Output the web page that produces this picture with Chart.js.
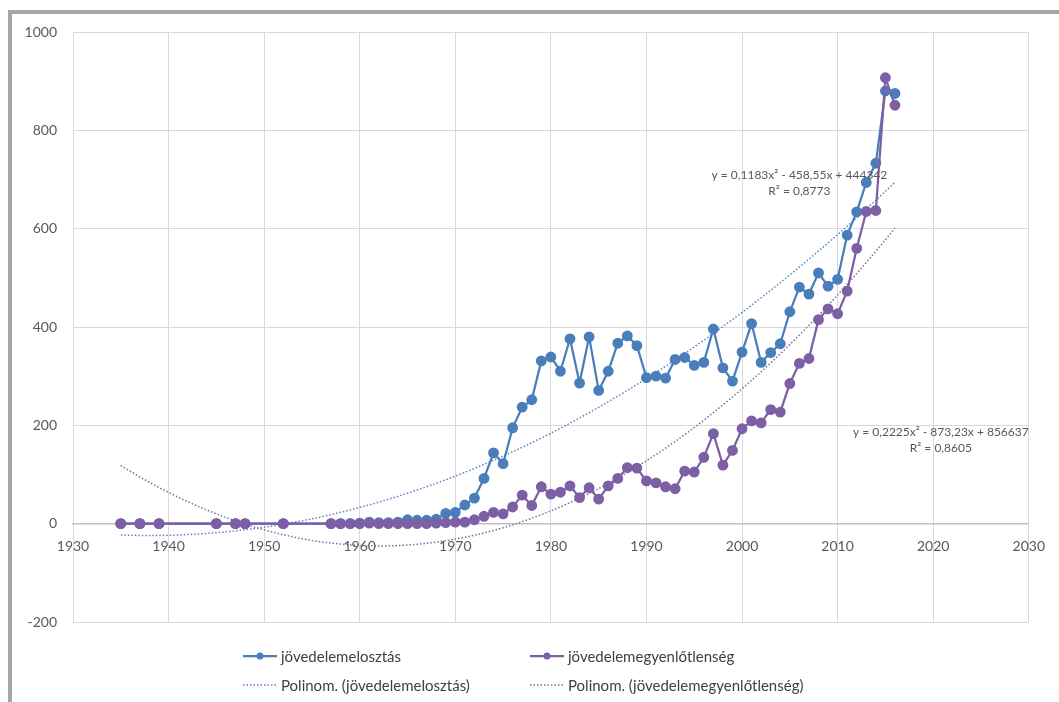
<!DOCTYPE html>
<html>
<head>
<meta charset="utf-8">
<script src="https://cdn.jsdelivr.net/npm/chart.js@4"></script>
<style>
  html, body { margin: 0; padding: 0; background: #fff; }
  body { width: 1059px; height: 702px; position: relative; overflow: hidden; font-family: Lato, "Liberation Sans", sans-serif; }
  #frame { position: absolute; left: 8px; top: 10px; width: 1100px; height: 720px;
           border-top: 4px solid #a6a6a6; border-left: 4px solid #a6a6a6; }
  #wrap { position: absolute; left: 0; top: 0; width: 1059px; height: 702px; }
  #legend { position: absolute; left: 243px; top: 645px; display: grid;
            grid-template-columns: 287px 320px; row-gap: 7px; font-size: 15px; color: #404040; }
  .item { display: flex; align-items: center; height: 22px; white-space: nowrap; }
  .item svg { margin-right: 4px; }
</style>
</head>
<body>
<div id="frame"></div>
<div id="wrap"><canvas id="chart"></canvas></div>
<div id="legend"></div>
<script>
// years with observations
const years = [1935, 1937, 1939, 1945, 1947, 1948, 1952,
  1957, 1958, 1959, 1960, 1961, 1962, 1963, 1964, 1965, 1966, 1967, 1968, 1969,
  1970, 1971, 1972, 1973, 1974, 1975, 1976, 1977, 1978, 1979,
  1980, 1981, 1982, 1983, 1984, 1985, 1986, 1987, 1988, 1989,
  1990, 1991, 1992, 1993, 1994, 1995, 1996, 1997, 1998, 1999,
  2000, 2001, 2002, 2003, 2004, 2005, 2006, 2007, 2008, 2009,
  2010, 2011, 2012, 2013, 2014, 2015, 2016];

const eloszlas = [0, 0, 0, 0, 0, 0, 0,
  0, 0, 0, 1, 3, 2, 2, 3, 8, 7, 7, 9, 21,
  23, 38, 52, 92, 144, 122, 195, 237, 252, 331,
  339, 310, 376, 286, 380, 271, 310, 367, 382, 362,
  297, 300, 296, 334, 338, 322, 328, 396, 317, 290,
  349, 407, 328, 348, 366, 431, 481, 467, 510, 483,
  497, 587, 634, 694, 733, 880, 875];

const egyenlotlenseg = [0, 0, 0, 0, 0, 0, 0,
  0, 0, 0, 0, 1, 0, 0, 0, 0, 0, 0, 1, 2,
  3, 3, 8, 15, 23, 20, 34, 58, 37, 75,
  60, 64, 77, 53, 73, 50, 77, 92, 114, 113,
  87, 83, 75, 71, 107, 105, 135, 183, 119, 149,
  193, 209, 205, 232, 227, 285, 326, 336, 415, 437,
  427, 473, 560, 635, 637, 907, 851];

const seriesNames = ['jövedelemelosztás', 'jövedelemegyenlőtlenség'];
const trendNames = ['Polinom. (jövedelemelosztás)', 'Polinom. (jövedelemegyenlőtlenség)'];
const trendText1 = ['y = 0,1183x² - 458,55x + 444342', 'R² = 0,8773'];
const trendText2 = ['y = 0,2225x² - 873,23x + 856637', 'R² = 0,8605'];

const xTicks = [1930, 2030, 10];
const yTicks = [-200, 1000, 200];

const blue = '#4a7ebb';
const purple = '#7d5fa5';
const grey = '#595959';

// least squares quadratic fit (like Excel's polynomial trendline)
function quadFit(xs, ys) {
  const m = xs.reduce((a, b) => a + b, 0) / xs.length;
  let s = [0, 0, 0, 0, 0], t = [0, 0, 0];
  xs.forEach((x0, i) => {
    const x = x0 - m;
    for (let k = 0; k < 5; k++) s[k] += Math.pow(x, k);
    for (let k = 0; k < 3; k++) t[k] += ys[i] * Math.pow(x, k);
  });
  const A = [[s[0], s[1], s[2], t[0]], [s[1], s[2], s[3], t[1]], [s[2], s[3], s[4], t[2]]];
  for (let i = 0; i < 3; i++) {
    for (let j = i + 1; j < 3; j++) {
      const f = A[j][i] / A[i][i];
      for (let k = i; k < 4; k++) A[j][k] -= f * A[i][k];
    }
  }
  const c = [0, 0, 0];
  for (let i = 2; i >= 0; i--) {
    let v = A[i][3];
    for (let k = i + 1; k < 3; k++) v -= A[i][k] * c[k];
    c[i] = v / A[i][i];
  }
  return x => { const d = x - m; return c[0] + c[1] * d + c[2] * d * d; };
}

function trendPoints(ys) {
  const f = quadFit(years, ys);
  const pts = [];
  for (let x = years[0]; x <= years[years.length - 1]; x++) pts.push({ x: x, y: f(x) });
  return pts;
}

const toXY = ys => years.map((x, i) => ({ x: x, y: ys[i] }));

// equation labels next to the trendlines
const labelPlugin = {
  id: 'trendLabels',
  afterDatasetsDraw(chart) {
    const ctx = chart.ctx, xs = chart.scales.x, ys = chart.scales.y;
    ctx.save();
    ctx.font = '12px Lato, "Liberation Sans", sans-serif';
    ctx.fillStyle = grey;
    ctx.textAlign = 'center';
    ctx.textBaseline = 'middle';
    [[trendText1, 2006, 709], [trendText2, 2020.8, 186]].forEach(([lines, x, y]) => {
      const px = xs.getPixelForValue(x), py = ys.getPixelForValue(y);
      lines.forEach((l, i) => ctx.fillText(l, px, py + i * 16));
    });
    ctx.restore();
  }
};

const ctx = document.getElementById('chart').getContext('2d');
const chart = new Chart(ctx, {
  type: 'scatter',
  data: {
    datasets: [
      { label: seriesNames[1], data: toXY(egyenlotlenseg), showLine: true, order: 0,
        borderColor: purple, backgroundColor: purple, borderWidth: 2.25, pointRadius: 4.3 },
      { label: seriesNames[0], data: toXY(eloszlas), showLine: true, order: 1,
        borderColor: blue, backgroundColor: blue, borderWidth: 2.25, pointRadius: 4.3 },
      { label: trendNames[0], data: trendPoints(eloszlas), showLine: true, order: 2,
        borderColor: '#5a86c0', borderWidth: 1.5, borderDash: [1.5, 2], pointRadius: 0 },
      { label: trendNames[1], data: trendPoints(egyenlotlenseg), showLine: true, order: 3,
        borderColor: '#7f6aa3', borderWidth: 1.5, borderDash: [1.5, 2], pointRadius: 0 }
    ]
  },
  options: {
    responsive: true,
    maintainAspectRatio: false,
    animation: false,
    layout: { padding: { left: 0, top: 32, right: 23, bottom: 80 } },
    plugins: { legend: { display: false }, tooltip: { enabled: false } },
    scales: {
      x: {
        type: 'linear',
        position: { y: 0 },
        min: xTicks[0], max: xTicks[1],
        ticks: { stepSize: xTicks[2], padding: 14, color: grey,
                 font: { family: 'Lato, "Liberation Sans", sans-serif', size: 14 },
                 callback: v => String(v), maxRotation: 0 },
        grid: { color: '#d9d9d9', drawTicks: false },
        border: { color: '#bfbfbf', width: 1.5 }
      },
      y: {
        min: yTicks[0], max: yTicks[1],
        ticks: { stepSize: yTicks[2], padding: 16, color: grey,
                 font: { family: 'Lato, "Liberation Sans", sans-serif', size: 14 },
                 callback: v => String(v) },
        grid: { color: '#d9d9d9', drawTicks: false },
        border: { display: false },
        afterFit: s => { s.width = 73; }
      }
    }
  },
  plugins: [labelPlugin]
});

// legend, two columns like the original
const legend = document.getElementById('legend');
const order = [1, 0, 2, 3];
order.forEach(i => {
  const ds = chart.data.datasets[i];
  const item = document.createElement('div');
  item.className = 'item';
  const mark = ds.pointRadius > 0
    ? `<svg width="34" height="10"><line x1="0" y1="5" x2="34" y2="5" stroke="${ds.borderColor}" stroke-width="2.25"/><circle cx="17" cy="5" r="3.5" fill="${ds.borderColor}"/></svg>`
    : `<svg width="34" height="10"><line x1="0" y1="5" x2="34" y2="5" stroke="${ds.borderColor}" stroke-width="1.5" stroke-dasharray="1.5 2"/></svg>`;
  item.innerHTML = mark + '<span>' + ds.label + '</span>';
  legend.appendChild(item);
});
</script>
</body>
</html>
